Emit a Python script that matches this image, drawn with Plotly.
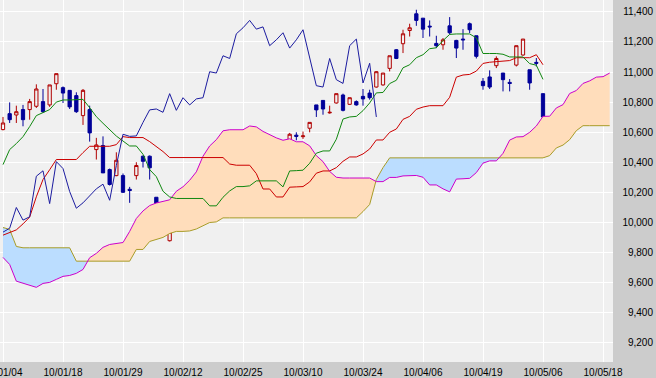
import plotly.graph_objects as go

# ---------------- data ----------------
tick_idx = [0, 9, 18, 27, 36, 45, 54, 63, 72, 81, 90]
tick_text = ["10/01/04", "10/01/18", "10/01/29", "10/02/12", "10/02/25", "10/03/10",
             "10/03/24", "10/04/06", "10/04/19", "10/05/06", "10/05/18"]
y_ticks = [9200, 9400, 9600, 9800, 10000, 10200, 10400, 10600, 10800, 11000, 11200, 11400]
y_text = ["9,200", "9,400", "9,600", "9,800", "10,000", "10,200", "10,400", "10,600",
          "10,800", "11,000", "11,200", "11,400"]

opens = [10617, 10723, 10714, 10750, 10750, 10772, 10803, 10781, 10922, 10896,
         10878, 10843, 10710, 10750, 10484, 10511, 10351, 10311, 10311, 10220,
         10311, 10440, 10440, 10167, 10013, 9878, 10037, 10090, 10108, 10050,
         10161, 10329, 10338, 10307, 10329, 10218, 10267, 10108, 10125, 10200,
         10192, 10258, 10254, 10546, 10580, 10570, 10626, 10781, 10811, 10728,
         10794, 10847, 10785, 10803, 10838, 10860, 10900, 10914, 11024, 11148,
         11188, 11276, 11387, 11358, 11305, 11190, 11181, 11307, 11210, 11219,
         11321, 11241, 10938, 10967, 11042, 10993, 10931, 11046, 11113, 11015,
         11064, 10856]
highs = [10701, 10798, 10776, 10781, 10821, 10918, 10887, 10914, 10989, 10904,
         10878, 10865, 10887, 10776, 10562, 10572, 10358, 10466, 10325, 10236,
         10400, 10445, 10445, 10167, 10064, 9948, 10052, 10108, 10125, 10064,
         10311, 10347, 10343, 10462, 10358, 10245, 10274, 10170, 10214, 10252,
         10267, 10263, 10382, 10595, 10599, 10604, 10665, 10781, 10811, 10776,
         10856, 10856, 10829, 10811, 10887, 10882, 11006, 10993, 11108, 11153,
         11281, 11321, 11414, 11358, 11343, 11241, 11226, 11365, 11214, 11285,
         11329, 11241, 10960, 11011, 11104, 10993, 10953, 11175, 11219, 11015,
         11093, 10856]
lows = [10612, 10661, 10661, 10639, 10683, 10761, 10728, 10768, 10882, 10794,
        10754, 10728, 10648, 10537, 10418, 10329, 10245, 10307, 10196, 10130,
        10285, 10365, 10285, 10037, 9948, 9873, 9957, 10015, 10015, 10024,
        10157, 10285, 10125, 10303, 10285, 10130, 10090, 10090, 10121, 10152,
        10187, 10139, 10250, 10519, 10546, 10555, 10599, 10701, 10716, 10723,
        10790, 10738, 10781, 10776, 10776, 10816, 10896, 10909, 11004, 11086,
        11126, 11236, 11307, 11226, 11236, 11159, 11148, 11250, 11093, 11148,
        11259, 11090, 10882, 10887, 11026, 10871, 10871, 11037, 11108, 10882,
        11037, 10683]
closes = [10661, 10683, 10736, 10683, 10803, 10887, 10736, 10914, 10989, 10860,
          10768, 10736, 10878, 10595, 10515, 10329, 10252, 10413, 10200, 10212,
          10378, 10406, 10363, 10064, 9953, 9935, 9961, 10099, 10015, 10037,
          10307, 10343, 10125, 10404, 10358, 10205, 10094, 10130, 10174, 10223,
          10254, 10147, 10378, 10586, 10572, 10575, 10665, 10748, 10754, 10732,
          10856, 10745, 10829, 10781, 10821, 10829, 11002, 10993, 11108, 11090,
          11254, 11294, 11343, 11285, 11300, 11175, 11214, 11261, 11159, 11214,
          11281, 11104, 10909, 10900, 11090, 10949, 10924, 11175, 11219, 10927,
          11058, 10701]

tenkan = [10384, 10484, 10524, 10570, 10637, 10710, 10730, 10750, 10800, 10814,
          10814, 10814, 10818, 10763, 10703, 10659, 10617, 10574, 10541, 10508,
          10508, 10453, 10351, 10304, 10207, 10169, 10159, 10159, 10159, 10159,
          10159, 10110, 10110, 10167, 10209, 10238, 10238, 10243, 10276, 10276,
          10276, 10276, 10236, 10342, 10344, 10347, 10393, 10460, 10475, 10475,
          10553, 10687, 10701, 10705, 10743, 10794, 10861, 10864, 10923, 10945,
          11028, 11048, 11095, 11115, 11155, 11161, 11209, 11250, 11253, 11253,
          11253, 11227, 11123, 11123, 11123, 11118, 11100, 11100, 11100, 11056,
          11045, 10951]
kijun = [9915, 9930, 9950, 9990, 10035, 10170, 10285, 10350, 10418, 10418,
         10418, 10418, 10464, 10506, 10506, 10506, 10506, 10517, 10570, 10564,
         10564, 10564, 10537, 10504, 10471, 10431, 10431, 10431, 10431, 10431,
         10431, 10431, 10431, 10431, 10388, 10380, 10380, 10380, 10324, 10222,
         10222, 10169, 10169, 10234, 10236, 10238, 10269, 10327, 10342, 10342,
         10364, 10406, 10435, 10435, 10455, 10488, 10548, 10548, 10599, 10621,
         10685, 10705, 10752, 10767, 10776, 10776, 10776, 10832, 10966, 10980,
         10984, 11006, 11057, 11065, 11068, 11076, 11076, 11095, 11095, 11095,
         11115, 11048]
senkou_a = [9767, 9720, 9609, 9594, 9581, 9568, 9594, 9601, 9621, 9641,
            9647, 9661, 9687, 9765, 9794, 9834, 9853, 9860, 9866, 9940,
            10026, 10076, 10112, 10129, 10140, 10150, 10207, 10237, 10280, 10336,
            10440, 10508, 10550, 10609, 10616, 10616, 10616, 10641, 10635, 10605,
            10583, 10562, 10546, 10556, 10536, 10536, 10509, 10444, 10404, 10339,
            10300, 10295, 10295, 10295, 10295, 10295, 10271, 10271, 10299, 10299,
            10309, 10309, 10312, 10300, 10249, 10249, 10223, 10203, 10288, 10290,
            10293, 10331, 10394, 10409, 10409, 10459, 10547, 10568, 10570, 10599,
            10641, 10705, 10706, 10761, 10783, 10857, 10877, 10924, 10941, 10966,
            10969, 10993]
senkou_b = [9966, 9953, 9840, 9831, 9831, 9831, 9831, 9831, 9831, 9831,
            9831, 9742, 9742, 9742, 9742, 9742, 9742, 9742, 9742, 9742,
            9820, 9820, 9873, 9886, 9900, 9926, 9940, 9940, 9943, 9956,
            9979, 9999, 10003, 10030, 10030, 10030, 10030, 10030, 10030, 10030,
            10030, 10030, 10030, 10030, 10030, 10030, 10030, 10030, 10030, 10030,
            10030, 10030, 10030, 10030, 10072, 10119, 10285, 10364, 10429, 10429,
            10429, 10429, 10429, 10429, 10429, 10429, 10429, 10429, 10429, 10429,
            10429, 10429, 10429, 10429, 10429, 10429, 10429, 10429, 10429, 10429,
            10429, 10429, 10444, 10495, 10514, 10550, 10610, 10643, 10643, 10643,
            10643, 10643]
CHIKOU_SHIFT = 25  # lagging span is the close plotted 25 bars back

# ---------------- styling ----------------
C_UP = "#B00000"
C_DN = "#000099"
C_TENKAN = "#118811"
C_KIJUN = "#CC0000"
C_CHIKOU = "#1C1CA0"
C_SA = "#CC00CC"
C_SB = "#A89C28"
C_PEACH = "#FFDDBB"
C_SKY = "#BBDDFF"

x_c = list(range(len(closes)))
x_s = list(range(len(senkou_a)))


def cloud_runs(xs, a, b):
    runs = []
    sign = a[0] >= b[0]
    cur = [(xs[0], a[0], b[0])]
    for k in range(1, len(xs)):
        s = a[k] >= b[k]
        if s != sign:
            d0 = a[k - 1] - b[k - 1]
            d1 = a[k] - b[k]
            t = d0 / (d0 - d1)
            xc = xs[k - 1] + t * (xs[k] - xs[k - 1])
            yc = a[k - 1] + t * (a[k] - a[k - 1])
            cur.append((xc, yc, yc))
            runs.append((sign, cur))
            cur = [(xc, yc, yc)]
            sign = s
        cur.append((xs[k], a[k], b[k]))
    runs.append((sign, cur))
    return runs


polys = {True: ([], []), False: ([], [])}
for s, run in cloud_runs(x_s, senkou_a, senkou_b):
    px, py = polys[s]
    if px:
        px.append(None)
        py.append(None)
    px.extend([p[0] for p in run] + [p[0] for p in reversed(run)])
    py.extend([p[1] for p in run] + [p[2] for p in reversed(run)])

fig = go.Figure()
for s, col in ((True, C_PEACH), (False, C_SKY)):
    px, py = polys[s]
    fig.add_trace(go.Scatter(x=px, y=py, mode="lines", fill="toself", fillcolor=col,
                             line=dict(width=0, color=col), hoverinfo="skip",
                             showlegend=False))

fig.add_trace(go.Scatter(x=x_s, y=senkou_b, mode="lines", line=dict(color=C_SB, width=1),
                         showlegend=False, name="先行スパン2"))
fig.add_trace(go.Scatter(x=x_s, y=senkou_a, mode="lines", line=dict(color=C_SA, width=1),
                         showlegend=False, name="先行スパン1"))
fig.add_trace(go.Scatter(x=x_c, y=kijun, mode="lines", line=dict(color=C_KIJUN, width=1),
                         showlegend=False, name="基準線"))
fig.add_trace(go.Scatter(x=x_c, y=tenkan, mode="lines", line=dict(color=C_TENKAN, width=1),
                         showlegend=False, name="転換線"))
chikou_x = x_c[:len(closes) - CHIKOU_SHIFT]
chikou_y = closes[CHIKOU_SHIFT:]
fig.add_trace(go.Scatter(x=chikou_x, y=chikou_y, mode="lines",
                         line=dict(color=C_CHIKOU, width=1), showlegend=False, name="遅行スパン"))
fig.add_trace(go.Candlestick(
    x=x_c, open=opens, high=highs, low=lows, close=closes,
    increasing=dict(line=dict(color=C_UP, width=1), fillcolor="rgba(0,0,0,0)"),
    decreasing=dict(line=dict(color=C_DN, width=1), fillcolor=C_DN),
    whiskerwidth=0, showlegend=False, hoverinfo="skip"))

W, H = 656, 378
plot_right = 613
fig.update_layout(
    width=W, height=H,
    margin=dict(l=0, r=0, t=0, b=16, pad=0),
    paper_bgcolor="#CCCCCC", plot_bgcolor="#F0F0F0",
    showlegend=False,
    xaxis=dict(domain=[0, plot_right / W], range=[-0.45, 91.5], automargin=False,
               tickmode="array", tickvals=tick_idx, ticktext=tick_text,
               showgrid=True, gridcolor="#FFFFFF", gridwidth=1, zeroline=False,
               showline=False, ticks="", ticklabeloverflow="allow", ticklabelstandoff=3,
               tickfont=dict(family="Liberation Sans, Arial, sans-serif", size=10, color="#000000"),
               rangeslider=dict(visible=False)),
    yaxis=dict(range=[9071.5, 11478.8], tickmode="array", tickvals=y_ticks, ticktext=y_text,
               automargin=False,
               side="right", anchor="free", position=1.0, ticklabelposition="inside",
               ticklabeloverflow="allow",
               showgrid=True, gridcolor="#FFFFFF", gridwidth=1, zeroline=False,
               showline=False, ticks="",
               tickfont=dict(family="Liberation Sans, Arial, sans-serif", size=10, color="#000000")),
)

fig.write_html("out.html", config={"displayModeBar": False},
               post_script="document.body.style.margin='0';document.body.style.padding='0';")
